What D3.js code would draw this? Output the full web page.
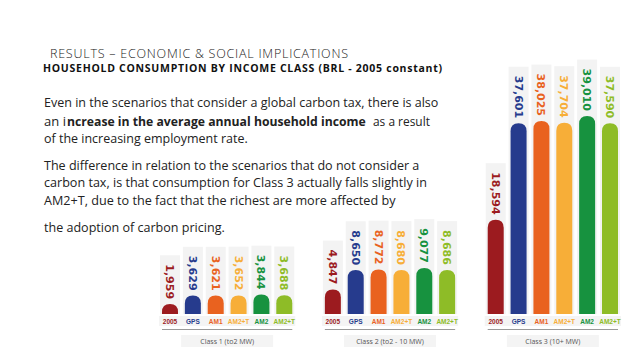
<!DOCTYPE html>
<html>
<head>
<meta charset="utf-8">
<script src="https://cdn.jsdelivr.net/npm/d3@7"></script>
<style>
  body { margin: 0; background: #fff; }
  svg { display: block; }
</style>
</head>
<body>
<svg id="mysvg"></svg>
<script>
const w = 638, h = 359;

// data
const scenarios = ["2005", "GPS", "AM1", "AM2+T", "AM2", "AM2+T"];
const colors = ["#9c1b1f", "#263b8d", "#e9621f", "#f7ae38", "#17923f", "#8ebc27"];
const classLabels = ["Class 1 (to2 MW)", "Class 2 (to2 - 10 MW)", "Class 3 (10+ MW)"];
const class1 = [1959, 3629, 3621, 3652, 3844, 3688];
const class2 = [4847, 8650, 8772, 8680, 9077, 8686];
const class3 = [18594, 37601, 38025, 37704, 39010, 37590];
const series = [class1, class2, class3];

// paragraph pieces: [text, bold, x start, width]
const paragraph = [
    [["Even in the scenarios that consider a global carbon tax, there is also", false, 44, 395]],
    [["an i", false, 44, 22], ["ncrease in the average annual household income", true, 67, 299], ["as a result", false, 373, 57]],
    [["of the increasing employment rate.", false, 44, 204]],
    [["The difference in relation to the scenarios that do not consider a", false, 44, 376]],
    [["carbon tax, is that consumption for Class 3 actually falls slightly in", false, 44, 383]],
    [["AM2+T, due to the fact that the richest are more affected by", false, 44, 352]],
    [["the adoption of carbon pricing.", false, 44, 181]]
];
const paraY = [107, 126, 143, 170, 187, 205, 232];

const svg = d3.select("#mysvg")
    .attr("width", w)
    .attr("height", h);

const font = "'Open Sans', 'Noto Sans', sans-serif";

// fit text into a width: shrink the font if too wide, stretch spacing if too narrow
function fitText(sel, size, target) {
    sel.attr("font-size", size);
    const nat = sel.node().getComputedTextLength();
    if (nat > target) sel.attr("font-size", size * target / nat);
    else sel.attr("textLength", target).attr("lengthAdjust", "spacing");
}

const title = svg.append("text")
    .attr("x", 50).attr("y", 57.5)
    .attr("font-family", font)
    .attr("font-weight", 300)
    .attr("fill", "#222")
    .text("RESULTS \u2013 ECONOMIC & SOCIAL IMPLICATIONS");
fitText(title, 12.5, 298);

const subtitle = svg.append("text")
    .attr("x", 43).attr("y", 72)
    .attr("font-family", font)
    .attr("font-weight", 700)
    .attr("fill", "#111")
    .text("HOUSEHOLD CONSUMPTION BY INCOME CLASS (BRL -  2005 constant)");
fitText(subtitle, 10.5, 399);

paragraph.forEach((segs, i) => {
    segs.forEach(s => {
        const t = svg.append("text")
            .attr("x", s[2]).attr("y", paraY[i])
            .attr("font-family", font)
            .attr("font-weight", s[1] ? 700 : 400)
            .attr("fill", "#222")
            .text(s[0]);
        fitText(t, 13, s[3]);
    });
});

// scales
const baseline = 314;
const panelScale = d3.scaleBand()
    .domain(d3.range(classLabels.length))
    .range([162, 618])
    .paddingInner(0.2)
    .paddingOuter(0);

const xScale = d3.scaleBand()
    .domain(d3.range(scenarios.length))
    .range([0, panelScale.bandwidth()])
    .paddingInner(0.3)
    .paddingOuter(0);

const yScale = d3.scaleLinear()
    .domain([0, 40000])
    .range([baseline, baseline - 203]);

function barPath(x, y, bw, bh) {
    const r = Math.min(bw / 2, bh);
    return "M" + x + "," + (y + bh) +
        "V" + (y + r) +
        "Q" + x + "," + y + " " + (x + r) + "," + y +
        "H" + (x + bw - r) +
        "Q" + (x + bw) + "," + y + " " + (x + bw) + "," + (y + r) +
        "V" + (y + bh) + "Z";
}

series.forEach((data, p) => {
    const px = panelScale(p);
    const pw = panelScale.bandwidth();
    const g = svg.append("g").attr("transform", "translate(" + px + ",0)");
    const bw = xScale.bandwidth();

    // category row background
    g.append("rect")
        .attr("x", -3).attr("y", baseline + 2)
        .attr("width", pw + 6).attr("height", 10)
        .attr("fill", "#f4f4f4");

    const cols = g.selectAll(".col")
        .data(data)
        .enter().append("g")
        .attr("class", "col");

    const bgs = cols.append("rect").attr("fill", "#f3f3f3");

    const labels = cols.append("text")
        .attr("transform", (d, i) => "translate(" + (xScale(i) + bw / 2) + "," + (yScale(d) - 5) + ") rotate(90)")
        .attr("text-anchor", "end")
        .attr("dy", "0.36em")
        .attr("font-family", "'DejaVu Sans', sans-serif")
        .attr("font-weight", 700)
        .attr("font-size", 11)
        .attr("fill", (d, i) => colors[i])
        .text(d => d3.format(",")(d));

    labels.each(function (d, i) {
        const len = this.getComputedTextLength();
        const top = yScale(d) - 5 - len - 9;
        d3.select(bgs.nodes()[i])
            .attr("x", xScale(i) - 2)
            .attr("y", top)
            .attr("width", bw + 4)
            .attr("height", baseline - top);
    });

    cols.append("path")
        .attr("fill", (d, i) => colors[i])
        .attr("d", (d, i) => barPath(xScale(i), yScale(d), bw, baseline - yScale(d)));

    g.selectAll(".cat")
        .data(scenarios)
        .enter().append("text")
        .attr("class", "cat")
        .attr("x", (d, i) => xScale(i) + bw / 2)
        .attr("y", baseline + 9.5)
        .attr("text-anchor", "middle")
        .attr("font-family", "'Liberation Sans', sans-serif")
        .attr("font-weight", 700)
        .attr("font-size", 6.5)
        .attr("fill", (d, i) => colors[i])
        .text(d => d);

    g.append("line")
        .attr("x1", 0).attr("x2", pw)
        .attr("y1", 329.5).attr("y2", 329.5)
        .attr("stroke", "#9a9a9a")
        .attr("stroke-width", 1);

    g.append("rect")
        .attr("x", pw / 2 - 46).attr("y", 335)
        .attr("width", 92).attr("height", 12)
        .attr("fill", "#f4f4f4");

    g.append("text")
        .attr("x", pw / 2).attr("y", 344)
        .attr("text-anchor", "middle")
        .attr("font-family", font)
        .attr("font-size", 7)
        .attr("fill", "#555")
        .text(classLabels[p]);
});
</script>
</body>
</html>
